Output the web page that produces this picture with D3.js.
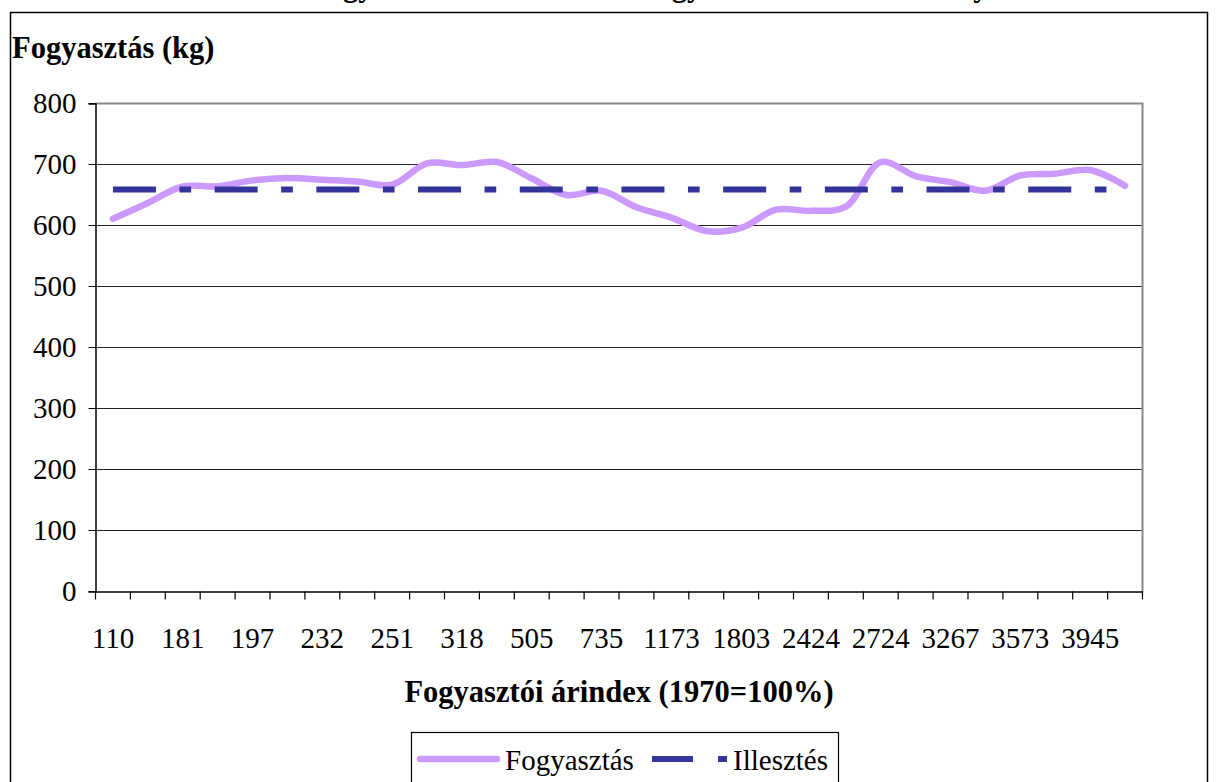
<!DOCTYPE html>
<html>
<head>
<meta charset="utf-8">
<script src="https://cdn.jsdelivr.net/npm/d3@7/dist/d3.min.js"></script>
<style>
  html, body { margin: 0; padding: 0; background: #fff; }
  svg { display: block; }
  text { font-family: "Liberation Serif", "Times New Roman", serif; fill: #000; }
</style>
</head>
<body>
<svg id="chart" width="1216" height="782"></svg>
<script>
// ---------------- data ----------------
const titleText = "A hús fogyasztás alakulása és a fogyasztói árindex viszonya";
const yAxisTitle = "Fogyasztás (kg)";
const xAxisTitle = "Fogyasztói árindex (1970=100%)";
const seriesNames = ["Fogyasztás", "Illesztés"];

// consumer price index categories (every second label is visible in the chart)
const categories = ["110", "154", "181", "189", "197", "214", "232", "241", "251", "283",
                    "318", "402", "505", "612", "735", "942", "1173", "1471", "1803", "2117",
                    "2424", "2571", "2724", "2993", "3267", "3418", "3573", "3756", "3945", "4102"];
// consumption (kg)
const consumption = [611, 637, 664, 664, 674, 678, 675, 672, 667, 702,
                     699, 704, 677, 650, 657, 630, 613, 591, 596, 626,
                     624, 631, 704, 681, 671, 657, 682, 685, 691, 665];
// fitted line
const fitted = [659, 659, 659, 659, 659, 659, 659, 659, 659, 659,
                659, 659, 659, 659, 659, 659, 659, 659, 659, 659,
                659, 659, 659, 659, 659, 659, 659, 659, 659, 659];
const yTicks = [0, 100, 200, 300, 400, 500, 600, 700, 800];

// ---------------- layout ----------------
const plot = { left: 95.5, right: 1142.5, top: 103.5, bottom: 591.5 };
const colLine = "#CC99FF", colFit = "#333399";
const fs = 29, fsBold = 30.5;

const svg = d3.select("#chart");

// outer chart frame
svg.append("rect").attr("x", 10.5).attr("y", 12.5).attr("width", 1197).attr("height", 820)
  .attr("fill", "#fff").attr("stroke", "#000").attr("stroke-width", 1.5);

// cut-off title above the frame (only descenders visible, as in the reference)
svg.append("text").attr("x", 620).attr("y", -4).attr("text-anchor", "middle")
  .attr("font-size", fsBold).attr("font-weight", "bold").text(titleText);

const x = d3.scaleBand().domain(categories).range([plot.left, plot.right]).padding(0);
const y = d3.scaleLinear().domain([0, 800]).range([plot.bottom, plot.top]);
const cx = d => x(d) + x.bandwidth() / 2;

// gridlines
const grid = svg.append("g").attr("transform", `translate(${plot.left},0)`)
  .call(d3.axisLeft(y).tickValues(yTicks.filter(v => v > 0)).tickSize(-(plot.right - plot.left)).tickFormat(""));
grid.select(".domain").remove();
grid.selectAll(".tick").attr("transform", d => `translate(0,${y(d)})`);
grid.selectAll("line").attr("stroke", "#222").attr("stroke-width", 1);

// plot border top/right (gray)
svg.append("path")
  .attr("d", `M${plot.left},${y(800)}H${plot.right}V${plot.bottom}`)
  .attr("fill", "none").attr("stroke", "#888").attr("stroke-width", 2);

// y axis
const yAx = svg.append("g").attr("transform", `translate(${plot.left},0)`)
  .call(d3.axisLeft(y).tickValues(yTicks).tickSize(7).tickPadding(12));
yAx.selectAll(".tick").attr("transform", d => `translate(0,${y(d)})`);
yAx.select(".domain").attr("stroke", "#000").attr("stroke-width", 1.5);
yAx.selectAll(".tick line").attr("stroke", "#000").attr("stroke-width", 1);
yAx.selectAll("text").attr("font-size", fs).attr("font-family", "Liberation Serif").attr("fill", "#000");

// x axis line + tick marks at category boundaries
const xAx = svg.append("g").attr("transform", `translate(0,${plot.bottom})`)
  .call(d3.axisBottom(x).tickValues(categories.filter((d, i) => i % 2 === 0)).tickSize(0).tickPadding(36));
xAx.select(".domain").attr("stroke", "#000").attr("stroke-width", 1.5);
xAx.selectAll("text").attr("font-size", fs).attr("font-family", "Liberation Serif").attr("fill", "#000");
const bounds = categories.map(d => x(d)).concat([x(categories[categories.length - 1]) + x.bandwidth()]);
svg.append("g").selectAll("line").data(bounds).join("line")
  .attr("x1", d => d).attr("x2", d => d)
  .attr("y1", plot.bottom).attr("y2", plot.bottom + 8)
  .attr("stroke", "#000").attr("stroke-width", 1.2);

// series
const line = d3.line().curve(d3.curveCatmullRom.alpha(0.5))
  .x((d, i) => cx(categories[i])).y(d => y(d));
svg.append("path").datum(consumption).attr("d", line)
  .attr("fill", "none").attr("stroke", colLine).attr("stroke-width", 6.5)
  .attr("stroke-linecap", "round").attr("stroke-linejoin", "round");

const lineStraight = d3.line().x((d, i) => cx(categories[i])).y(d => y(d));
svg.append("path").datum(fitted).attr("d", lineStraight)
  .attr("fill", "none").attr("stroke", colFit).attr("stroke-width", 6)
  .attr("stroke-dasharray", "43,23.5,11.7,23.5");

// axis titles
svg.append("text").attr("x", 12).attr("y", 58)
  .attr("font-size", fsBold).attr("font-weight", "bold").text(yAxisTitle);
svg.append("text").attr("x", (plot.left + plot.right) / 2).attr("y", 702)
  .attr("text-anchor", "middle").attr("font-size", fsBold).attr("font-weight", "bold").text(xAxisTitle);

// legend
const lg = svg.append("g");
lg.append("rect").attr("x", 411.5).attr("y", 732.5).attr("width", 427).attr("height", 80)
  .attr("fill", "#fff").attr("stroke", "#000").attr("stroke-width", 1.2);
lg.append("line").attr("x1", 420).attr("x2", 497).attr("y1", 759).attr("y2", 759)
  .attr("stroke", colLine).attr("stroke-width", 6.5).attr("stroke-linecap", "round");
lg.append("text").attr("x", 505).attr("y", 770).attr("font-size", fs).text(seriesNames[0]);
lg.append("line").attr("x1", 652).attr("x2", 727).attr("y1", 759).attr("y2", 759)
  .attr("stroke", colFit).attr("stroke-width", 6).attr("stroke-dasharray", "41,25,9,100");
lg.append("text").attr("x", 733).attr("y", 770).attr("font-size", fs).text(seriesNames[1]);
</script>
</body>
</html>
